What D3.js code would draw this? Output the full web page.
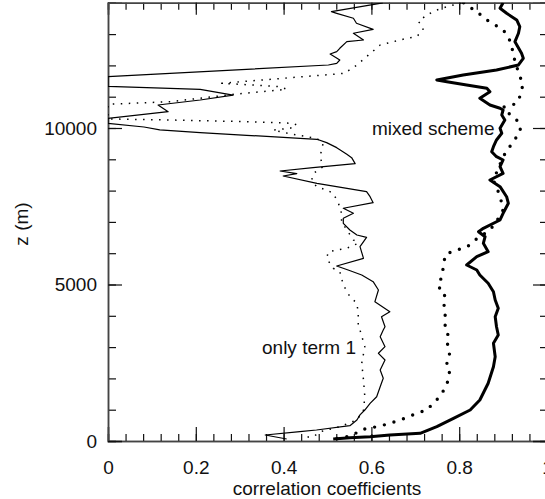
<!DOCTYPE html>
<html>
<head>
<meta charset="utf-8">
<script src="https://cdn.jsdelivr.net/npm/d3@7"></script>
<style>
	body{margin:0;background:#fff;}
	svg text{font-family:"Liberation Sans",Arial,sans-serif;font-size:19px;fill:#111;}
</style>
</head>
<body>
<svg id="chart" width="545" height="499"></svg>
<script>
// [correlation, z (m)], top to bottom
var term1Solid = [
	[0.626,14000],[0.509,13717],[0.521,13664],[0.559,13505],[0.566,13345],[0.604,13153],[0.559,13026],
	[0.582,12812],[0.544,12758],[0.528,12546],[0.521,12438],[0.506,12365],[0.528,12173],[0.521,12067],
	[0.502,12013],[0.000,11640],[0.000,11330],[0.141,11269],[0.210,11236],[0.285,11050],[0.210,10895],
	[0.114,10735],[0.137,10522],[0.000,10310],[0.000,10150],[0.082,10032],[0.118,9940],[0.210,9852],
	[0.316,9767],[0.476,9639],[0.498,9532],[0.521,9372],[0.544,9160],[0.555,9052],[0.563,8861],
	[0.467,8733],[0.392,8626],[0.430,8541],[0.399,8467],[0.476,8232],[0.589,7965],[0.597,7805],
	[0.604,7614],[0.536,7435],[0.559,7275],[0.536,7115],[0.536,6955],[0.551,6742],[0.567,6582],
	[0.589,6508],[0.574,6209],[0.582,5837],[0.521,5591],[0.547,5464],[0.578,5304],[0.604,5090],
	[0.616,4824],[0.608,4451],[0.642,4131],[0.623,3971],[0.631,3652],[0.627,3546],[0.620,3332],
	[0.631,3013],[0.616,2802],[0.631,2588],[0.620,2268],[0.627,2003],[0.620,1735],[0.612,1415],
	[0.597,1201],[0.585,990],[0.574,836],[0.567,671],[0.551,489],[0.475,351],[0.437,297],
	[0.358,192],[0.407,64]
];
var term1Dotted = [
	[0.805,14000],[0.787,13931],[0.772,13877],[0.749,13771],[0.726,13611],[0.707,13397],[0.715,13291],
	[0.718,13131],[0.703,12918],[0.680,12864],[0.650,12758],[0.620,12652],[0.589,12278],[0.567,12013],
	[0.544,11799],[0.540,11748],[0.259,11429],[0.392,11322],[0.407,11237],[0.293,11087],[0.141,10841],
	[0.000,10758],[0.000,10290],[0.141,10256],[0.316,10202],[0.421,10150],[0.430,10096],[0.415,9991],
	[0.376,9936],[0.392,9882],[0.430,9777],[0.475,9671],[0.490,9511],[0.483,9083],[0.490,8764],
	[0.468,8550],[0.464,8339],[0.475,8125],[0.498,8019],[0.513,7914],[0.525,7594],[0.532,7275],
	[0.532,7007],[0.544,6742],[0.559,6422],[0.570,6317],[0.544,6157],[0.521,6102],[0.502,6048],
	[0.498,5837],[0.513,5518],[0.528,5409],[0.536,4984],[0.551,4610],[0.567,4399],[0.570,4080],
	[0.570,3706],[0.574,3546],[0.585,3013],[0.578,2483],[0.582,1949],[0.585,1415],[0.582,990],
	[0.567,671],[0.528,457],[0.483,297],[0.468,137],[0.445,118]
];
var mixedSolid = [
	[0.900,14000],[0.893,13825],[0.908,13665],[0.931,13451],[0.938,13237],[0.935,13026],[0.927,12758],
	[0.942,12387],[0.946,12227],[0.935,12013],[0.885,11853],[0.809,11694],[0.749,11534],[0.772,11480],
	[0.817,11374],[0.863,11269],[0.870,11160],[0.847,10949],[0.870,10735],[0.893,10630],[0.900,10575],
	[0.897,10416],[0.904,10256],[0.893,9991],[0.897,9831],[0.885,9617],[0.878,9403],[0.874,9243],
	[0.885,9083],[0.900,8978],[0.893,8764],[0.900,8553],[0.870,8339],[0.893,8125],[0.908,7805],
	[0.912,7594],[0.900,7275],[0.893,7061],[0.855,6796],[0.844,6687],[0.859,6527],[0.855,6317],
	[0.866,6049],[0.840,5888],[0.817,5623],[0.840,5464],[0.847,5304],[0.866,5038],[0.878,4770],
	[0.882,4505],[0.889,4240],[0.882,3971],[0.885,3652],[0.889,3387],[0.878,3122],[0.882,2693],
	[0.878,2374],[0.866,1844],[0.847,1310],[0.825,990],[0.787,725],[0.749,457],[0.711,246],
	[0.642,192],[0.597,137],[0.551,105],[0.513,64]
];
var mixedDotted = [
	[0.810,14000],[0.817,13930],[0.840,13716],[0.863,13451],[0.882,13291],[0.900,13131],[0.912,12918],
	[0.920,12598],[0.923,12333],[0.931,11959],[0.938,11639],[0.946,11428],[0.942,11214],[0.938,11000],
	[0.931,10789],[0.920,10735],[0.900,10662],[0.904,10575],[0.931,10256],[0.940,10000],[0.935,9800],
	[0.925,9600],[0.915,9400],[0.905,9200],[0.897,8978],[0.878,8339],[0.882,8179],[0.889,7965],
	[0.893,7805],[0.897,7594],[0.900,7381],[0.889,7115],[0.885,7007],[0.870,6742],[0.836,6422],
	[0.817,6189],[0.787,6080],[0.768,5943],[0.764,5569],[0.760,5249],[0.752,4930],[0.768,4719],
	[0.764,4505],[0.768,4080],[0.768,3652],[0.775,3492],[0.772,3227],[0.775,2962],[0.779,2693],
	[0.772,2482],[0.779,2323],[0.775,1949],[0.768,1684],[0.752,1364],[0.726,990],[0.703,885],
	[0.680,744],[0.658,639],[0.635,534],[0.612,457],[0.593,406],[0.574,351],[0.559,192],
	[0.536,105],[0.510,64]
];

var xMajor = [0, 0.2, 0.4, 0.6, 0.8, 1];
var xLabels = ["0", "0.2", "0.4", "0.6", "0.8", "1"];
var yMajor = [0, 5000, 10000];
var yLabels = ["0", "5000", "10000"];

(function(){
	var svg = d3.select("#chart");
	var plotLeft = 108, plotRight = 547, plotTop = 2.8, plotBottom = 441;

	var x = d3.scaleLinear().domain([0, 1]).range([plotLeft, plotRight]);
	var y = d3.scaleLinear().domain([0, 14000]).range([plotBottom, plotTop]);

	var xMinor = d3.range(0, 1.0001, 0.04);
	var yMinor = d3.range(0, 14001, 1000);

	function styleAxis(g){
		g.select(".domain").attr("stroke", "#444").attr("stroke-width", 1.5);
		g.selectAll(".tick line").attr("stroke", "#111").attr("stroke-width", 1.2);
		g.selectAll(".tick text").attr("font-size", null).attr("font-family", null).attr("fill", "#111");
	}

	// frame axes (ticks pointing inward)
	svg.append("g").attr("transform", "translate(0," + plotBottom + ")")
		.call(d3.axisBottom(x).tickValues(xMinor).tickSize(-7).tickFormat("")).call(styleAxis);
	svg.append("g").attr("transform", "translate(0," + plotBottom + ")")
		.call(d3.axisBottom(x).tickValues(xMajor).tickSize(-14).tickPadding(20)
			.tickFormat(function(d, i){ return xLabels[i]; }))
		.call(styleAxis);

	svg.append("g").attr("transform", "translate(0," + plotTop + ")")
		.call(d3.axisTop(x).tickValues(xMinor).tickSize(-7).tickFormat("")).call(styleAxis);
	svg.append("g").attr("transform", "translate(0," + plotTop + ")")
		.call(d3.axisTop(x).tickValues(xMajor).tickSize(-12).tickFormat("")).call(styleAxis);

	svg.append("g").attr("transform", "translate(" + plotLeft + ",0)")
		.call(d3.axisLeft(y).tickValues(yMinor).tickSize(-8).tickFormat("")).call(styleAxis);
	svg.append("g").attr("transform", "translate(" + plotLeft + ",0)")
		.call(d3.axisLeft(y).tickValues(yMajor).tickSize(-14).tickPadding(11)
			.tickFormat(function(d, i){ return yLabels[i]; }))
		.call(styleAxis);

	svg.append("g").attr("transform", "translate(" + plotRight + ",0)")
		.call(d3.axisRight(y).tickValues(yMinor).tickSize(-7).tickFormat("")).call(styleAxis);
	svg.append("g").attr("transform", "translate(" + plotRight + ",0)")
		.call(d3.axisRight(y).tickValues(yMajor).tickSize(-14).tickFormat("")).call(styleAxis);

	// curves
	svg.append("clipPath").attr("id", "plotClip").append("rect")
		.attr("x", plotLeft).attr("y", plotTop).attr("width", plotRight - plotLeft).attr("height", plotBottom - plotTop);

	var line = d3.line().x(function(d){ return x(d[0]); }).y(function(d){ return y(d[1]); });
	var curves = svg.append("g").attr("clip-path", "url(#plotClip)");

	var series = [
		{data: term1Solid, width: 1.2, dash: null, cap: "butt"},
		{data: term1Dotted, width: 1.5, dash: "1.5,6.5", cap: "butt"},
		{data: mixedSolid, width: 3, dash: null, cap: "butt"},
		{data: mixedDotted, width: 3.4, dash: "0,10", cap: "round"}
	];
	series.forEach(function(s){
		curves.append("path").datum(s.data)
			.attr("d", line)
			.attr("fill", "none")
			.attr("stroke", "#000")
			.attr("stroke-width", s.width)
			.attr("stroke-linejoin", "round")
			.attr("stroke-linecap", s.cap)
			.attr("stroke-dasharray", s.dash);
	});

	// labels
	svg.append("text").attr("x", 327).attr("y", 495).attr("text-anchor", "middle")
		.text("correlation coefficients");
	svg.append("text").attr("transform", "translate(28,224) rotate(-90)").attr("text-anchor", "middle")
		.text("z (m)");
	svg.append("text").attr("x", 262).attr("y", 354).text("only term 1");
	svg.append("text").attr("x", 372).attr("y", 135).text("mixed scheme");
})();
</script>
</body>
</html>
